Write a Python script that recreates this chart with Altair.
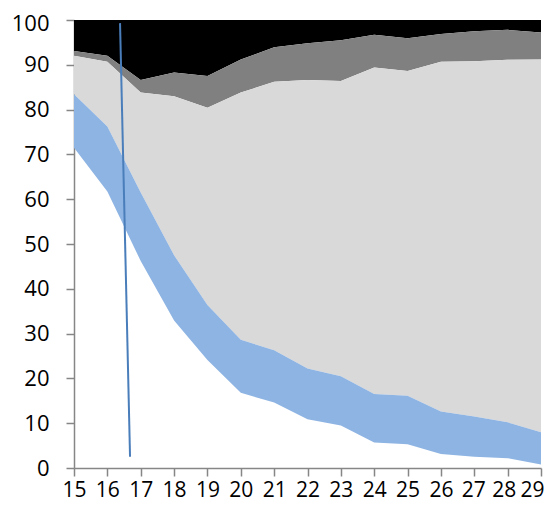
import altair as alt
import pandas as pd

x_vals = [15, 16, 17, 18, 19, 20, 21, 22, 23, 24, 25, 26, 27, 28, 29]
blue_bottom = [71.5, 61.7, 46.2, 32.9, 24.1, 16.8, 14.6, 10.9, 9.5, 5.7, 5.3, 3.1, 2.5, 2.2, 0.8]
blue_top = [83.4, 76.2, 61.5, 47.5, 36.4, 28.6, 26.3, 22.2, 20.5, 16.5, 16.1, 12.6, 11.5, 10.2, 8.0]
lightgray_top = [92.0, 90.7, 83.8, 83.0, 80.4, 83.8, 86.2, 86.6, 86.4, 89.4, 88.6, 90.7, 90.8, 91.1, 91.2]
darkgray_top = [93.1, 92.0, 86.6, 88.3, 87.5, 91.2, 93.9, 94.8, 95.5, 96.7, 95.9, 96.9, 97.5, 97.8, 97.2]
top_line = [100] * 15

line_x = [16.38, 16.68]
line_y = [99.3, 2.5]

x_ticks = list(range(15, 30))
y_ticks = list(range(0, 101, 10))

FONT = "Open Sans"

xscale = alt.Scale(domain=[15, 29], nice=False, zero=False)
yscale = alt.Scale(domain=[0, 100], nice=False)

xaxis = alt.Axis(values=x_ticks, title=None, grid=False, labelFlush=False, labelPadding=3,
                 labelOverlap=False, labelFontSize=21,
                 labelOffset={"condition": [{"test": "datum.value == 29", "value": -9},
                                            {"test": "datum.value == 28", "value": -4},
                                            {"test": "datum.value == 27", "value": -1}],
                              "value": 0},
                 format="d")
yaxis = alt.Axis(values=y_ticks, title=None, grid=False, labelPadding=17, labelOverlap=False,
                 labelFlush=False,
                 labelOffset={"condition": {"test": "datum.value == 100", "value": 3}, "value": 0},
                 format="d")


def band(lo, hi, color):
    df = pd.DataFrame({"x": x_vals, "lo": lo, "hi": hi})
    return alt.Chart(df).mark_area(color=color, opacity=1, interpolate="linear").encode(
        x=alt.X("x:Q", scale=xscale, axis=xaxis),
        y=alt.Y("lo:Q", scale=yscale, axis=yaxis, stack=None),
        y2="hi:Q",
    )


layers = [
    band(darkgray_top, top_line, "#000000"),
    band(lightgray_top, darkgray_top, "#808080"),
    band(blue_top, lightgray_top, "#D9D9D9"),
    band(blue_bottom, blue_top, "#8EB4E3"),
]

line_df = pd.DataFrame({"x": line_x, "y": line_y})
line = alt.Chart(line_df).mark_line(color="#4A7EBB", strokeWidth=2).encode(
    x=alt.X("x:Q", scale=xscale, axis=xaxis),
    y=alt.Y("y:Q", scale=yscale, axis=yaxis),
)

chart = alt.layer(*layers, line).properties(
    width=467,
    height=448,
    autosize=alt.AutoSizeParams(type="none"),
    padding={"left": 66, "top": 12, "right": 4, "bottom": 36},
).configure_view(stroke=None).configure_axis(
    labelFont=FONT,
    labelFontSize=22,
    labelColor="#000000",
    domainColor="#868686",
    tickColor="#868686",
    domainWidth=1.5,
    tickWidth=1.5,
    tickSize=8,
)

chart.save("out.html", embed_options={"renderer": "svg", "actions": False})
